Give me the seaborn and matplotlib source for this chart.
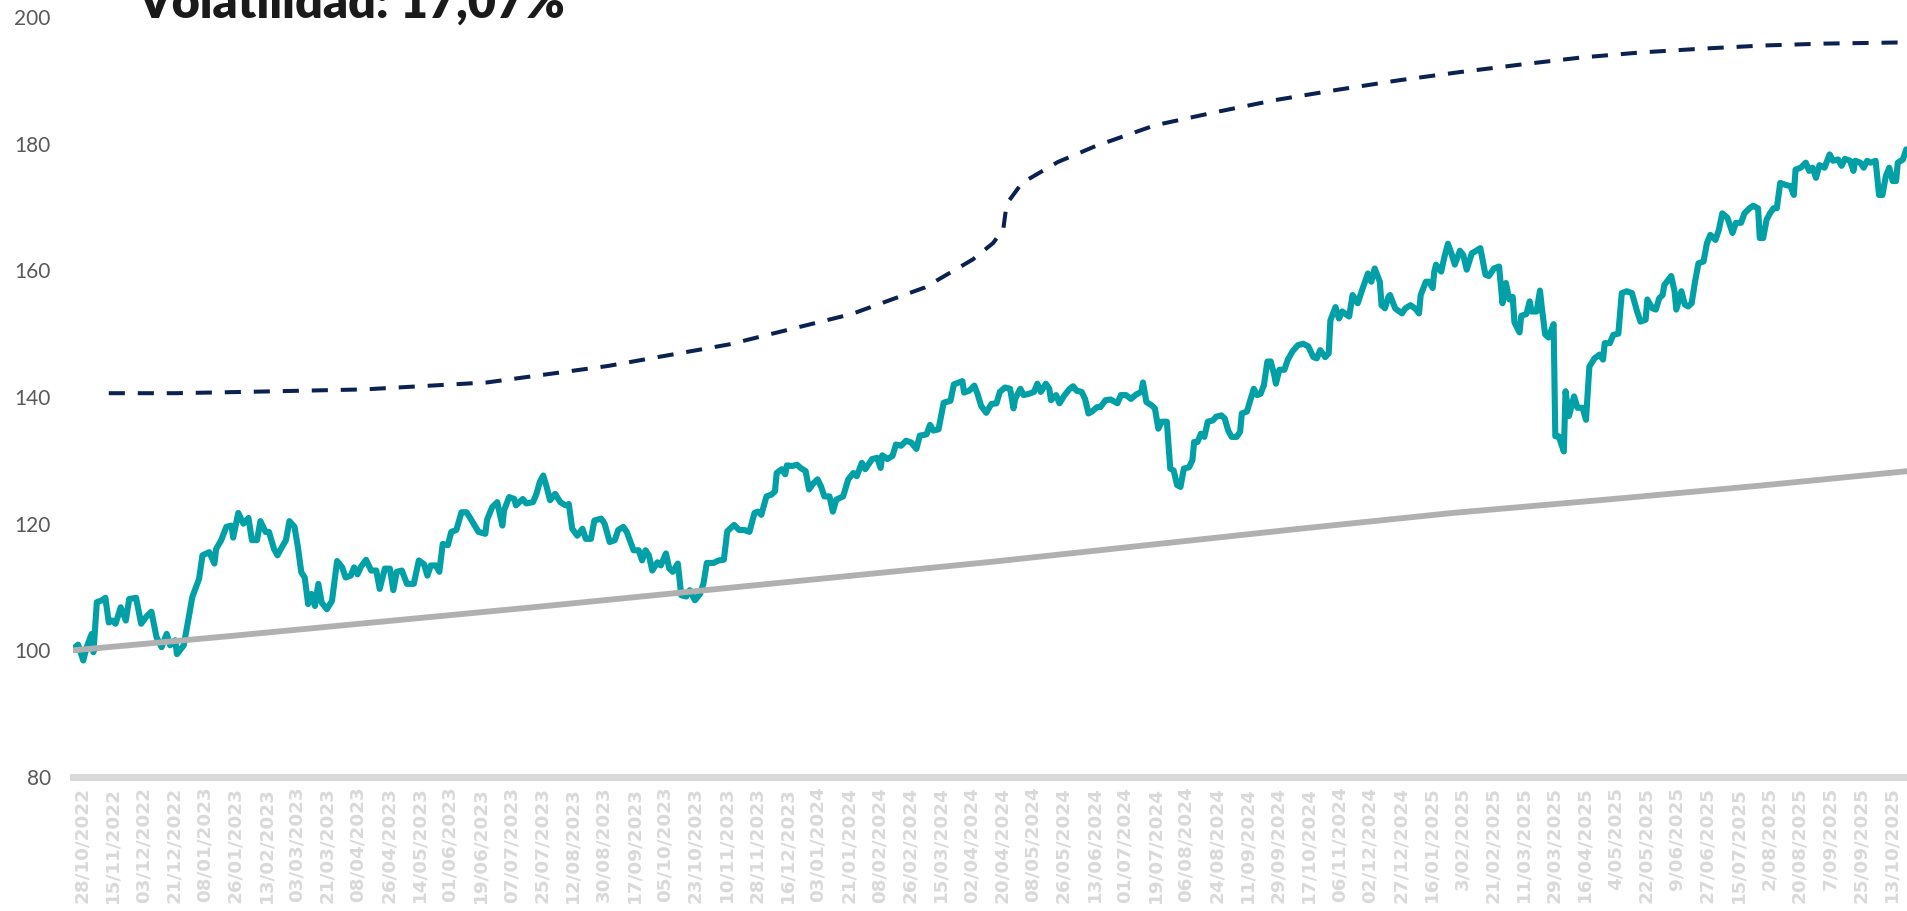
import matplotlib
matplotlib.use('Agg')
import matplotlib.pyplot as plt
import matplotlib.transforms as mtransforms
import pandas as pd
import seaborn as sns

# Etiquetas del eje X (una cada 18 sesiones)
fechas = ['28/10/2022', '15/11/2022', '03/12/2022', '21/12/2022', '08/01/2023', '26/01/2023',
          '13/02/2023', '03/03/2023', '21/03/2023', '08/04/2023', '26/04/2023', '14/05/2023',
          '01/06/2023', '19/06/2023', '07/07/2023', '25/07/2023', '12/08/2023', '30/08/2023',
          '17/09/2023', '05/10/2023', '23/10/2023', '10/11/2023', '28/11/2023', '16/12/2023',
          '03/01/2024', '21/01/2024', '08/02/2024', '26/02/2024', '15/03/2024', '02/04/2024',
          '20/04/2024', '08/05/2024', '26/05/2024', '13/06/2024', '01/07/2024', '19/07/2024',
          '06/08/2024', '24/08/2024', '11/09/2024', '29/09/2024', '17/10/2024', '06/11/2024',
          '02/12/2024', '27/12/2024', '16/01/2025', '3/02/2025', '21/02/2025', '11/03/2025',
          '29/03/2025', '16/04/2025', '4/05/2025', '22/05/2025', '9/06/2025', '27/06/2025',
          '15/07/2025', '2/08/2025', '20/08/2025', '7/09/2025', '25/09/2025', '13/10/2025']
paso_etiqueta = 18

# Cartera (linea turquesa): posicion de la sesion y valor base 100
cartera_dia = [0, 3, 6, 8, 11, 12, 14, 17, 19, 21, 23, 25, 28, 31, 33, 37, 40, 43, 46, 49, 52, 55, 57, 60, 61,
               65, 68, 70, 74, 76, 80, 83, 84, 87, 90, 93, 94, 97, 100, 103, 105, 108, 110, 113, 115, 118, 120,
               122, 125, 127, 130, 132, 134, 136, 138, 140, 142, 144, 146, 149, 152, 155, 158, 160, 163, 165,
               167, 169, 172, 175, 178, 180, 183, 186, 188, 190, 193, 196, 200, 203, 206, 208, 210, 213, 215,
               217, 220, 222, 225, 228, 231, 234, 238, 242, 243, 246, 249, 252, 253, 256, 259, 260, 264, 266,
               270, 272, 274, 276, 278, 280, 283, 286, 289, 291, 293, 296, 299, 301, 304, 306, 310, 312, 315,
               318, 320, 323, 325, 329, 332, 334, 336, 338, 340, 343, 345, 348, 350, 352, 355, 357, 360, 362,
               365, 368, 370, 372, 376, 379, 382, 384, 386, 388, 391, 394, 397, 400, 402, 404, 407, 410, 412,
               413, 416, 418, 419, 422, 425, 427, 430, 432, 434, 437, 439, 441, 444, 446, 448, 452, 455, 458,
               460, 463, 465, 469, 472, 474, 475, 478, 481, 483, 486, 489, 492, 495, 497, 501, 503, 505, 508,
               511, 515, 517, 520, 522, 523, 526, 529, 531, 533, 536, 539, 542, 544, 547, 550, 552, 553, 556,
               558, 561, 564, 566, 568, 571, 573, 574, 577, 579, 582, 585, 587, 589, 592, 594, 596, 598, 601,
               603, 606, 609, 613, 615, 618, 621, 624, 627, 628, 630, 633, 635, 637, 639, 642, 644, 646, 648,
               650, 652, 655, 657, 658, 660, 662, 664, 666, 669, 671, 674, 676, 678, 680, 683, 685, 686, 689,
               691, 693, 695, 697, 699, 701, 703, 705, 706, 708, 711, 713, 716, 719, 722, 725, 728, 730, 732,
               735, 737, 738, 741, 743, 745, 749, 751, 754, 757, 760, 762, 764, 767, 768, 770, 772, 773, 776,
               780, 782, 785, 788, 790, 791, 794, 796, 798, 799, 800, 803, 805, 807, 809, 811, 814, 816, 818,
               821, 823, 826, 829, 831, 834, 837, 839, 841, 843, 845, 846, 849, 850, 853, 855, 856, 859, 861,
               862, 864, 866, 869, 870, 872, 875, 876, 878, 881, 883, 886, 888, 890, 893, 896, 898, 899, 902,
               904, 907, 909, 912, 915, 918, 920, 923, 924, 927, 929, 931, 933, 934, 938, 940, 941, 944, 946,
               948, 950, 952, 954, 957, 959, 961, 964, 966, 968, 971, 974, 976, 979, 981, 984, 986, 989, 990,
               992, 994, 996, 998, 1000, 1002, 1005, 1008, 1010, 1011, 1014, 1017, 1019, 1021, 1023, 1025,
               1028, 1031, 1033, 1036, 1038, 1040, 1043, 1045, 1046, 1049, 1051, 1053, 1055, 1058, 1060, 1062,
               1064, 1066, 1068, 1070, 1071, 1074, 1076]
cartera_valor = [100.2, 100.9, 98.4, 100.5, 102.6, 99.7, 107.6, 107.9, 108.3, 104.4, 104.7, 104.2, 106.8, 104.7,
                 108.1, 108.3, 104.2, 105.3, 106.1, 102.1, 100.5, 102.6, 100.8, 101.6, 99.4, 100.8, 105.3, 108.4,
                 111.3, 115.0, 115.5, 113.7, 116.0, 117.4, 119.5, 119.7, 117.8, 121.7, 120.0, 120.9, 117.4, 117.4,
                 120.4, 118.7, 118.7, 116.0, 115.0, 116.0, 117.4, 120.4, 119.5, 116.3, 112.3, 111.5, 107.3, 108.9,
                 107.0, 110.5, 107.5, 106.5, 107.8, 114.1, 113.1, 111.5, 111.8, 113.1, 112.0, 113.2, 114.3, 112.6,
                 112.6, 109.7, 112.9, 112.9, 109.5, 112.4, 112.6, 110.5, 110.5, 114.2, 113.6, 111.8, 113.4, 113.4,
                 112.4, 116.8, 116.6, 118.7, 119.0, 121.8, 121.8, 120.5, 118.7, 118.4, 120.6, 122.6, 123.4, 119.7,
                 122.1, 124.2, 123.9, 122.9, 123.9, 123.2, 123.4, 124.7, 126.6, 127.6, 125.8, 123.7, 124.7, 123.4,
                 122.9, 123.1, 119.2, 118.1, 119.2, 117.6, 117.6, 120.5, 120.8, 120.0, 117.1, 117.4, 119.0, 119.5,
                 118.7, 115.8, 115.8, 114.2, 115.8, 115.0, 112.6, 113.9, 113.4, 115.3, 112.9, 112.4, 113.7, 108.7,
                 108.5, 109.5, 107.9, 108.9, 110.5, 113.8, 113.8, 114.2, 114.3, 118.8, 119.3, 119.8, 119.0, 119.0,
                 118.7, 121.7, 121.9, 121.4, 124.3, 124.6, 125.1, 128.0, 128.6, 127.8, 129.2, 129.1, 129.3, 128.8,
                 128.3, 125.4, 126.2, 127.0, 125.9, 124.3, 124.3, 121.9, 123.8, 124.3, 127.0, 128.0, 127.5, 129.6,
                 128.6, 130.2, 130.4, 128.8, 130.8, 130.2, 130.7, 132.5, 132.3, 133.1, 132.8, 131.8, 133.9, 134.1,
                 135.6, 134.7, 134.9, 139.1, 139.4, 142.0, 142.3, 142.5, 140.7, 141.0, 141.8, 140.4, 138.6, 137.5,
                 138.9, 139.0, 140.8, 141.5, 141.3, 138.2, 139.7, 141.3, 140.3, 140.5, 140.8, 142.1, 140.8, 142.1,
                 141.3, 139.5, 140.3, 139.0, 140.3, 141.3, 141.7, 141.0, 140.8, 139.7, 137.4, 137.7, 138.4, 138.4,
                 139.5, 139.6, 139.0, 140.3, 140.3, 139.7, 140.4, 140.8, 142.3, 139.2, 138.7, 138.2, 135.0, 136.1,
                 136.1, 128.7, 128.4, 126.1, 125.8, 128.7, 128.9, 130.0, 132.9, 132.9, 134.2, 133.7, 136.1, 136.3,
                 136.9, 137.1, 136.6, 134.7, 133.7, 133.7, 134.5, 137.4, 137.7, 139.5, 141.3, 140.3, 140.5, 141.9,
                 145.6, 145.6, 143.5, 142.1, 144.3, 144.3, 145.9, 147.3, 148.2, 148.4, 148.0, 146.3, 146.1, 147.4,
                 146.3, 146.9, 152.1, 154.2, 152.4, 153.5, 152.7, 156.1, 154.8, 157.2, 159.5, 158.2, 160.3, 158.2,
                 154.5, 154.0, 155.8, 156.1, 154.0, 153.2, 154.0, 154.5, 153.9, 153.2, 156.1, 158.2, 158.2, 157.2,
                 159.8, 160.9, 159.8, 162.2, 164.2, 162.7, 160.9, 163.1, 162.4, 160.1, 162.7, 163.0, 163.5, 159.3,
                 159.1, 160.3, 160.6, 154.8, 158.0, 155.4, 155.8, 151.8, 150.2, 152.8, 153.1, 155.1, 153.5, 153.5,
                 156.8, 154.3, 149.9, 149.4, 151.5, 133.8, 133.8, 131.4, 140.9, 137.0, 140.1, 138.3, 138.3, 136.4,
                 144.8, 146.1, 146.7, 145.9, 148.5, 148.5, 149.8, 150.0, 156.4, 156.7, 156.4, 153.5, 151.9, 152.2,
                 155.4, 154.0, 153.8, 155.6, 156.1, 157.7, 159.1, 156.7, 153.8, 156.7, 154.6, 154.3, 154.8, 158.2,
                 161.1, 161.4, 164.3, 165.6, 164.8, 166.4, 169.0, 168.3, 165.9, 167.5, 167.5, 169.0, 169.8, 170.2,
                 169.8, 165.1, 165.1, 168.0, 169.0, 169.8, 169.8, 173.8, 173.5, 173.3, 171.9, 175.9, 176.2, 177.0,
                 175.7, 176.2, 174.6, 176.6, 176.2, 178.3, 177.3, 177.5, 176.5, 177.6, 177.3, 175.7, 177.3, 177.0,
                 176.2, 177.3, 177.0, 177.3, 171.9, 171.9, 174.9, 176.2, 174.1, 174.1, 177.0, 177.5, 179.1]

# Referencia (linea gris)
referencia_dia = [0, 90, 180, 270, 360, 450, 540, 630, 720, 810, 900, 990, 1077]
referencia_valor = [100.0, 102.2, 104.5, 106.8, 109.2, 111.6, 114.0, 116.6, 119.2, 121.7, 123.8, 126.0, 128.3]

# Banda superior de volatilidad (linea discontinua)
banda_dia = [21, 60, 100, 171, 243, 314, 385, 457, 500, 528, 540, 546, 548, 557, 578, 600, 635, 671, 706,
             742, 778, 814, 850, 885, 920, 956, 992, 1028, 1077]
banda_valor = [140.6, 140.6, 140.8, 141.2, 142.3, 144.9, 148.3, 153.1, 157.3, 161.7, 164.3, 166.5, 170.5,
               173.8, 177.1, 179.6, 182.9, 185.0, 186.9, 188.5, 190.0, 191.3, 192.5, 193.6, 194.4, 195.0,
               195.5, 195.8, 196.0]

titulo = 'Volatilidad: 17,07%'

df_cartera = pd.DataFrame({'dia': cartera_dia, 'valor': cartera_valor})
df_ref = pd.DataFrame({'dia': referencia_dia, 'valor': referencia_valor})
df_banda = pd.DataFrame({'dia': banda_dia, 'valor': banda_valor})

sns.set_theme(style='white')
plt.rcParams['font.family'] = ['Lato', 'DejaVu Sans']

fig = plt.figure(figsize=(19.08, 9.11), dpi=100)
ax = fig.add_axes([73 / 1908, 1 - 777 / 911, 1 - 73 / 1908, (777 - 17) / 911])

sns.lineplot(data=df_cartera, x='dia', y='valor', ax=ax, color='#00A0A6', linewidth=4.4)
sns.lineplot(data=df_ref, x='dia', y='valor', ax=ax, color='#B0B0B0', linewidth=4.2)
sns.lineplot(data=df_banda, x='dia', y='valor', ax=ax, color='#0B2150', linewidth=2.9)
ax.lines[-1].set_dashes([4.0, 3.2])

ax.set_xlim(0, 1077)
ax.set_ylim(80, 200)
ax.set(xlabel='', ylabel='')

ax.set_yticks(range(80, 201, 20))
ax.tick_params(axis='y', length=0, pad=16, labelsize=15, labelcolor='#595959')

ax.set_xticks([i * paso_etiqueta for i in range(len(fechas))])
ax.set_xticklabels(fechas, rotation=90, fontsize=13.2, fontweight='bold',
                   family='DejaVu Sans', color='#D9D9D9', va='top', ha='center')
ax.tick_params(axis='x', length=0, pad=7)
offset = mtransforms.ScaledTranslation(0.09, 0, fig.dpi_scale_trans)
for lbl in ax.get_xticklabels():
    lbl.set_transform(lbl.get_transform() + offset)

for side in ['left', 'top', 'right']:
    ax.spines[side].set_visible(False)
ax.spines['bottom'].set_color('#D9D9D9')
ax.spines['bottom'].set_linewidth(5)
ax.grid(False)

# el titulo queda cortado por arriba, como en el original
fig.text(138 / 1908, 1 - 18 / 911, titulo, fontsize=35, fontweight='heavy',
         family='Lato', color='#1A1A1A', ha='left', va='baseline')

fig.savefig('out.png', dpi=100)
